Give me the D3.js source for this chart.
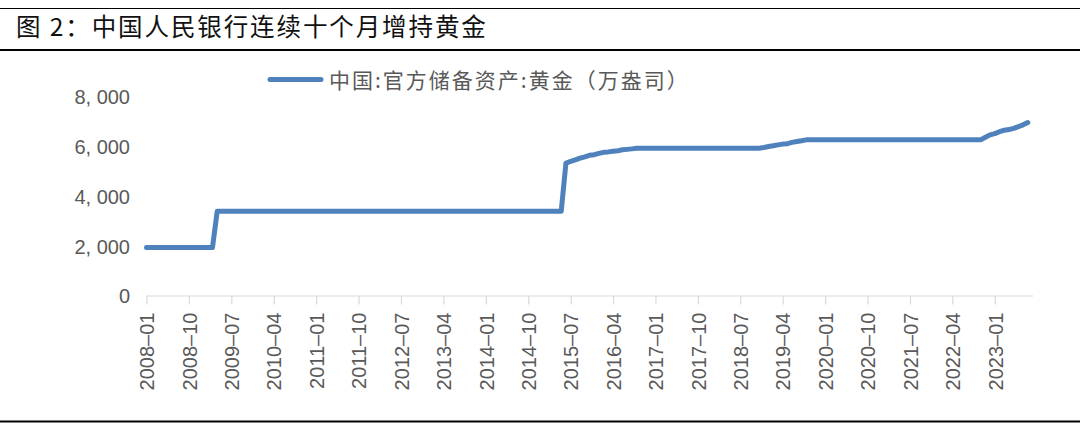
<!DOCTYPE html>
<html>
<head>
<meta charset="utf-8">
<script src="https://cdn.jsdelivr.net/npm/d3@7"></script>
<style>
  body { margin: 0; background: #fff; }
  svg { display: block; }
  .title { font-family: "Noto Sans CJK SC", sans-serif; font-size: 24.5px; letter-spacing: 1.9px; fill: #111; }
  .legend-text { font-family: "Noto Sans CJK SC", sans-serif; font-size: 21px; letter-spacing: 2px; fill: #595959; }
  .tick-label { font-family: "Liberation Sans", Arial, sans-serif; font-size: 20px; fill: #595959; }
</style>
</head>
<body>
<div id="chart"></div>
<script>
// 中国:官方储备资产:黄金（万盎司），月度，2008-01 ~ 2023-08

const titleText = '图 2：中国人民银行连续十个月增持黄金';
const seriesName = '中国:官方储备资产:黄金（万盎司）';

const startMonth = '2008-01';
const axisEndMonth = '2023-09';   // category axis runs one month past the last point

// one row per year, Jan..Dec
const gold2008 = [1929, 1929, 1929, 1929, 1929, 1929, 1929, 1929, 1929, 1929, 1929, 1929];
const gold2009 = [1929, 1929, 1929, 3389, 3389, 3389, 3389, 3389, 3389, 3389, 3389, 3389];
const gold2010 = [3389, 3389, 3389, 3389, 3389, 3389, 3389, 3389, 3389, 3389, 3389, 3389];
const gold2011 = [3389, 3389, 3389, 3389, 3389, 3389, 3389, 3389, 3389, 3389, 3389, 3389];
const gold2012 = [3389, 3389, 3389, 3389, 3389, 3389, 3389, 3389, 3389, 3389, 3389, 3389];
const gold2013 = [3389, 3389, 3389, 3389, 3389, 3389, 3389, 3389, 3389, 3389, 3389, 3389];
const gold2014 = [3389, 3389, 3389, 3389, 3389, 3389, 3389, 3389, 3389, 3389, 3389, 3389];
const gold2015 = [3389, 3389, 3389, 3389, 3389, 5331, 5393, 5459, 5526, 5580, 5640, 5666];
const gold2016 = [5719, 5762, 5779, 5805, 5828, 5862, 5880, 5900, 5924, 5924, 5924, 5924];
const gold2017 = [5924, 5924, 5924, 5924, 5924, 5924, 5924, 5924, 5924, 5924, 5924, 5924];
const gold2018 = [5924, 5924, 5924, 5924, 5924, 5924, 5924, 5924, 5924, 5924, 5924, 5956];
const gold2019 = [5994, 6026, 6062, 6092, 6109, 6161, 6194, 6226, 6264, 6264, 6264, 6264];
const gold2020 = [6264, 6264, 6264, 6264, 6264, 6264, 6264, 6264, 6264, 6264, 6264, 6264];
const gold2021 = [6264, 6264, 6264, 6264, 6264, 6264, 6264, 6264, 6264, 6264, 6264, 6264];
const gold2022 = [6264, 6264, 6264, 6264, 6264, 6264, 6264, 6264, 6264, 6264, 6367, 6464];
const gold2023 = [6512, 6592, 6650, 6676, 6727, 6795, 6869, 6962];

const yTicks = [0, 2000, 4000, 6000, 8000];
const labelEvery = 9;   // x labels: 2008-01, 2008-10, 2009-07 ...

const goldValues = [].concat(
    gold2008, gold2009, gold2010, gold2011, gold2012, gold2013, gold2014, gold2015,
    gold2016, gold2017, gold2018, gold2019, gold2020, gold2021, gold2022, gold2023
);

const width = 1080;
const height = 427;

const parseMonth = d3.timeParse('%Y-%m');
const fmtMonth = d3.timeFormat('%Y–%m');
const months = d3.timeMonth.range(parseMonth(startMonth), d3.timeMonth.offset(parseMonth(axisEndMonth), 1));
const data = goldValues.map((v, i) => ({ date: months[i], value: v }));

const svg = d3.select('#chart')
    .append('svg')
    .attr('width', width)
    .attr('height', height);

svg.append('rect').attr('width', width).attr('height', height).attr('fill', '#fff');

// header rules and title
svg.append('line')
    .attr('x1', 0).attr('x2', width).attr('y1', 8.5).attr('y2', 8.5)
    .attr('stroke', '#000').attr('stroke-width', 1.2);
svg.append('text')
    .attr('class', 'title')
    .attr('x', 16).attr('y', 36)
    .text(titleText);
svg.append('line')
    .attr('x1', 0).attr('x2', width).attr('y1', 50).attr('y2', 50)
    .attr('stroke', '#000').attr('stroke-width', 2);
svg.append('line')
    .attr('x1', 0).attr('x2', width).attr('y1', 421.5).attr('y2', 421.5)
    .attr('stroke', '#000').attr('stroke-width', 2);

// scales
const x = d3.scalePoint()
    .domain(d3.range(months.length))
    .range([146.5, 1032.5]);

const y = d3.scaleLinear()
    .domain([0, 8000])
    .range([295.5, 96.7]);

// y axis labels (no axis line, no gridlines)
const yFmt = d => d3.format(',')(d).replace(',', ', ');
const yAxis = d3.axisLeft(y)
    .tickValues(yTicks)
    .tickSize(0)
    .tickPadding(0)
    .tickFormat(yFmt);

const yG = svg.append('g')
    .attr('transform', 'translate(130,0)')
    .call(yAxis);
yG.select('.domain').remove();
yG.selectAll('text')
    .attr('class', 'tick-label')
    .attr('dy', '0.36em')
    .attr('font-size', null)
    .attr('font-family', null);

// x axis
const tickIdx = d3.range(0, months.length, labelEvery);
const xAxis = d3.axisBottom(x)
    .tickValues(tickIdx)
    .tickSize(9)
    .tickSizeOuter(0)
    .tickFormat(i => fmtMonth(months[i]));

const xG = svg.append('g')
    .attr('transform', `translate(0,${y(0)})`)
    .call(xAxis);
xG.select('.domain').attr('stroke', '#d9d9d9').attr('stroke-width', 1.2);
xG.selectAll('.tick line').attr('stroke', '#d9d9d9').attr('stroke-width', 1.2);
xG.selectAll('.tick text')
    .attr('class', 'tick-label')
    .attr('font-size', null)
    .attr('font-family', null)
    .attr('text-anchor', 'end')
    .attr('transform', 'rotate(-90)')
    .attr('x', -17)
    .attr('y', 0)
    .attr('dy', '0.36em');

// series line
const line = d3.line()
    .x((d, i) => x(i))
    .y(d => y(d.value));

svg.append('path')
    .datum(data)
    .attr('fill', 'none')
    .attr('stroke', '#4f81bd')
    .attr('stroke-width', 5)
    .attr('stroke-linejoin', 'round')
    .attr('stroke-linecap', 'round')
    .attr('d', line);

// legend
const legend = svg.append('g').attr('transform', 'translate(268,79.5)');
legend.append('line')
    .attr('x1', 2).attr('x2', 53)
    .attr('stroke', '#4f81bd')
    .attr('stroke-width', 5)
    .attr('stroke-linecap', 'round');
legend.append('text')
    .attr('class', 'legend-text')
    .attr('x', 61)
    .attr('y', 8)
    .text(seriesName);
</script>
</body>
</html>
